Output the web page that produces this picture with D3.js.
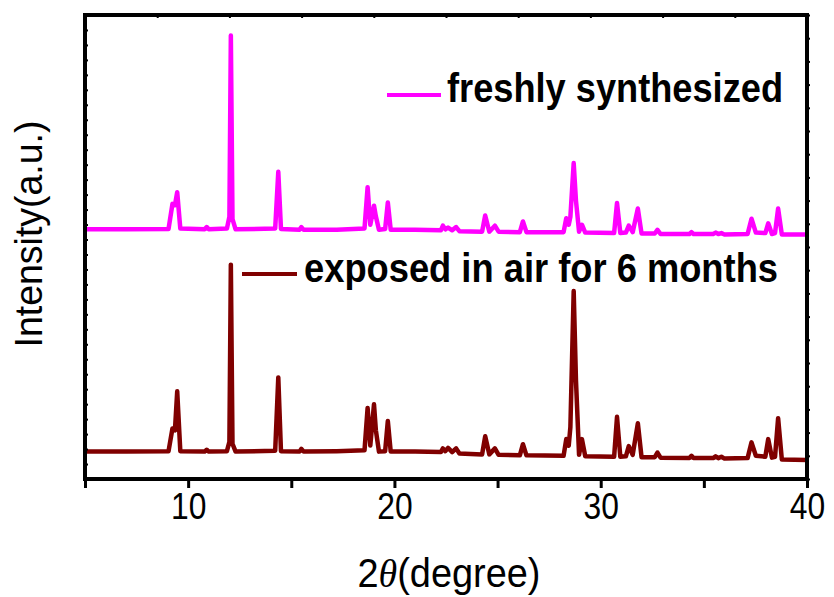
<!DOCTYPE html>
<html><head><meta charset="utf-8">
<script src="https://cdn.jsdelivr.net/npm/d3@7"></script>
<style>body{margin:0;background:#fff}</style></head>
<body>
<svg id="c" width="834" height="597"></svg>
<script>
// 2θ positions (degree) shared by both patterns
const twoTheta = [
  5.0, 7.0, 9.05, 9.24, 9.36, 9.47, 9.62, 10.8, 10.9, 11.0,
  11.88, 12.0, 12.07, 12.15, 12.3, 14.22, 14.37, 14.5, 15.4, 15.49,
  15.6, 17.2, 18.55, 18.7, 18.83, 19.01, 19.1, 19.25, 19.55, 19.68,
  19.82, 21.0, 22.25, 22.35, 22.47, 22.6, 22.8, 22.99, 23.15, 24.25,
  24.4, 24.6, 24.87, 25.05, 26.08, 26.23, 26.4, 28.2, 28.33, 28.45,
  28.53, 28.69, 28.8, 28.95, 29.09, 29.25, 30.65, 30.79, 30.95, 31.22,
  31.36, 31.55, 31.8, 31.98, 32.62, 32.75, 32.9, 34.3, 34.4, 34.5,
  35.45, 35.57, 35.7, 35.85, 36.0, 37.12, 37.31, 37.52, 37.98, 38.12,
  38.3, 38.45, 38.6, 38.78, 40.0
];
// intensity (a.u.), freshly synthesized (offset pattern)
const fresh = [
  538, 538, 539, 593, 590, 618, 540, 538, 543, 538,
  540, 565, 956, 560, 538, 540, 662, 539, 537, 543,
  537, 537, 540, 629, 548, 589, 566, 537, 539, 596,
  537, 537, 536, 546, 538, 542, 536, 543, 534, 533,
  568, 533, 546, 533, 532, 555, 532, 532, 562, 548,
  565, 681, 600, 533, 548, 531, 530, 595, 530, 531,
  546, 532, 583, 529, 529, 537, 528, 528, 532, 528,
  528, 531, 528, 530, 527, 528, 561, 531, 530, 551,
  528, 530, 583, 527, 527
];
// intensity (a.u.), exposed in air for 6 months
const exposed = [
  59, 59, 60, 109, 105, 189, 60, 59, 63, 59,
  60, 80, 462, 76, 59, 61, 219, 60, 59, 65,
  59, 60, 62, 153, 72, 161, 105, 59, 60, 125,
  59, 59, 58, 66, 60, 67, 58, 66, 55, 53,
  92, 53, 66, 52, 51, 75, 51, 50, 86, 72,
  112, 405, 213, 52, 86, 49, 48, 134, 48, 49,
  71, 52, 120, 47, 47, 57, 46, 45, 50, 45,
  45, 49, 45, 48, 44, 45, 79, 50, 48, 86,
  46, 48, 131, 42, 41
];
const xTicks = [5, 10, 15, 20, 25, 30, 35, 40];
const xTickLabels = ["", "10", "", "20", "", "30", "", "40"];
const seriesNames = ["freshly synthesized", "exposed in air for 6 months"];
const seriesColors = ["#FF00FF", "#800000"];

const svg = d3.select("#c");
const L = 85, R = 807, T = 15, B = 479;
const x = d3.scaleLinear().domain([5, 40]).range([L, R]);
const y = d3.scaleLinear().domain([0, 1000]).range([B, T]);

const series = [fresh, exposed];
const line = d3.line().x(d => x(d[0])).y(d => y(d[1]));
series.forEach((vals, i) => {
  svg.append("path")
    .datum(twoTheta.map((t, j) => [t, vals[j]]))
    .attr("d", line)
    .attr("fill", "none")
    .attr("stroke", seriesColors[i])
    .attr("stroke-width", 4.5)
    .attr("stroke-linejoin", "round");
});

// minor decorative ticks on other sides
const gL = svg.append("g").attr("transform", `translate(${L},0)`)
  .call(d3.axisLeft(y).tickValues(d3.range(0, 1000.1, 1000 / 31)).tickSize(-3).tickFormat(""));
const gR = svg.append("g").attr("transform", `translate(${R},0)`)
  .call(d3.axisRight(y).tickValues(d3.range(0, 1000.1, 50)).tickSize(3).tickFormat(""));
const gT = svg.append("g").attr("transform", `translate(0,${T})`)
  .call(d3.axisTop(x).tickValues(d3.range(5, 40.1, 3.5)).tickSize(-3).tickFormat(""));
[gL, gR, gT].forEach(g => {
  g.select(".domain").remove();
  g.selectAll("line").attr("stroke", "#000").attr("stroke-width", 2);
});

// bottom axis
const gB = svg.append("g").attr("transform", `translate(0,${B})`)
  .call(d3.axisBottom(x).tickValues(xTicks).tickSize(9).tickPadding(5)
    .tickFormat((d, i) => xTickLabels[i]));
gB.select(".domain").remove();
gB.selectAll("line").attr("stroke", "#000").attr("stroke-width", 3);
gB.selectAll("text").attr("font-family", "Liberation Sans, Arial, sans-serif")
  .attr("font-size", 37).attr("fill", "#000")
  .attr("transform", "scale(0.86,1)");

// frame
svg.append("rect").attr("x", L).attr("y", T).attr("width", R - L).attr("height", B - T)
  .attr("fill", "none").attr("stroke", "#000").attr("stroke-width", 4);

// legends
const leg = [
  { lx1: 387, lx2: 441, ly: 95, tx: 447, ty: 102, len: 336 },
  { lx1: 242, lx2: 297, ly: 274, tx: 304, ty: 282, len: 474 }
];
leg.forEach((p, i) => {
  svg.append("line").attr("x1", p.lx1).attr("x2", p.lx2).attr("y1", p.ly).attr("y2", p.ly)
    .attr("stroke", seriesColors[i]).attr("stroke-width", 4);
  svg.append("text").attr("x", p.tx).attr("y", p.ty)
    .attr("font-family", "Liberation Sans, Arial, sans-serif").attr("font-weight", "bold")
    .attr("font-size", 41).attr("textLength", p.len).attr("lengthAdjust", "spacingAndGlyphs")
    .text(seriesNames[i]);
});

// axis titles
const xt = svg.append("text").attr("x", 449).attr("y", 587).attr("text-anchor", "middle")
  .attr("font-family", "Liberation Sans, Arial, sans-serif").attr("font-size", 40)
  .attr("textLength", 183).attr("lengthAdjust", "spacingAndGlyphs");
xt.append("tspan").text("2");
xt.append("tspan").attr("font-style", "italic").attr("font-family", "Liberation Serif, serif").text("θ");
xt.append("tspan").text("(degree)");

svg.append("text").attr("transform", "translate(42,234) rotate(-90)")
  .attr("text-anchor", "middle")
  .attr("font-family", "Liberation Sans, Arial, sans-serif").attr("font-size", 38)
  .attr("textLength", 227).attr("lengthAdjust", "spacingAndGlyphs")
  .text("Intensity(a.u.)");
</script>
</body></html>
